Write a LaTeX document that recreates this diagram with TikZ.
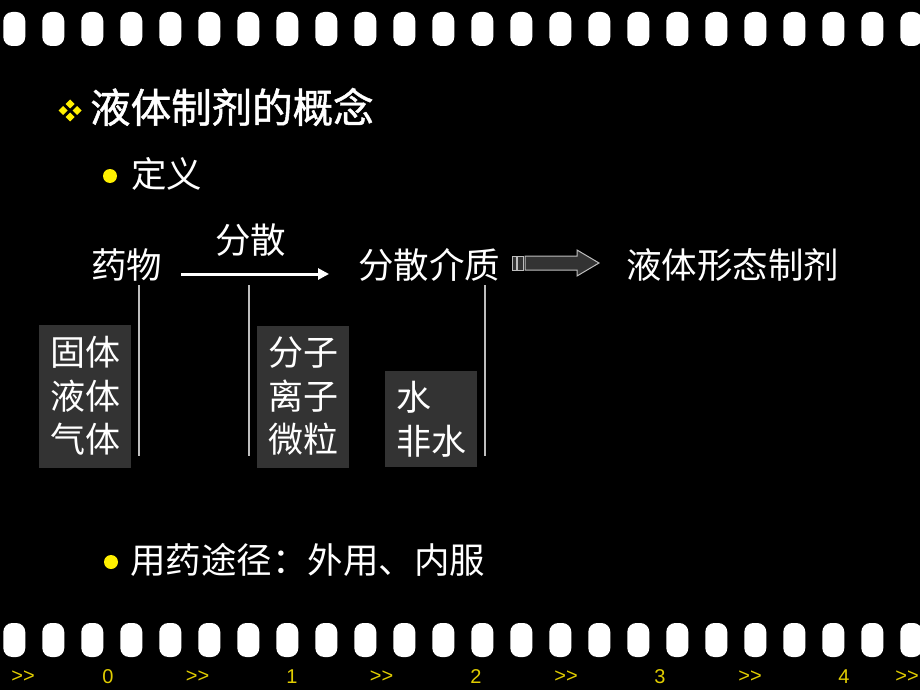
\documentclass[tikz,border=0pt]{standalone}
\usepackage{fontspec}
\setmainfont{Liberation Sans}
\newfontfamily\cjk{Noto Sans CJK SC}
\newfontfamily\cjkbold[FakeBold=1.2]{Noto Sans CJK SC}
\usetikzlibrary{arrows.meta}
\definecolor{boxgray}{RGB}{51,51,51}
\definecolor{linegray}{RGB}{190,190,190}
\definecolor{bulletyellow}{RGB}{255,240,0}
\definecolor{numyellow}{RGB}{225,205,0}
\newcommand{\rarr}{>{}>}
\begin{document}
\begin{tikzpicture}[x=1pt,y=-1pt,
  cjktext/.style={text=white, inner sep=0pt, anchor=west, font=\cjk\fontsize{35.5}{42}\selectfont},
  titletext/.style={text=white, inner sep=0pt, anchor=west, font=\cjkbold\fontsize{40.5}{48}\selectfont},
  box/.style={fill=boxgray, text=white, inner xsep=11pt, inner ysep=0pt, text width=70pt, align=left, font=\cjk\fontsize{35}{43.5}\selectfont},
  numtext/.style={text=numyellow, inner sep=0pt, font=\fontsize{20}{24}\selectfont},
  hole/.style={fill=white, rounded corners=9pt},
  vline/.style={draw=linegray, line width=1.3pt},
  dot/.style={fill=bulletyellow},
  diam/.style={fill=bulletyellow}
]
\useasboundingbox (0,0) rectangle (920,690);
\fill[black] (0,0) rectangle (920,690);

% film strip holes
\foreach \i in {0,...,23} {
  \fill[hole] ({3.3+39*\i},12) rectangle ++(22,34);
  \fill[hole] ({3.3+39*\i},623) rectangle ++(22,34);
}

% title with diamond bullet
\foreach \cx/\cy in {70/104, 63/110.5, 77/110.5, 70/117} {
  \fill[diam] (\cx-4.5,\cy) -- (\cx,\cy-4.5) -- (\cx+4.5,\cy) -- (\cx,\cy+4.5) -- cycle;
}
\node[titletext] (title) at (90,107) {液体制剂的概念};

% definition bullet
\fill[dot] (110,176) circle (7);
\node[cjktext] (def) at (131,174) {定义};

% main row
\node[cjktext] (drug) at (91,265) {药物};
\node[cjktext] (disp) at (215,240) {分散};
\node[cjktext] (medium) at (358,265) {分散介质};
\node[cjktext] (liquid) at (626,265) {液体形态制剂};

\coordinate (a1) at (181,274);
\coordinate (a2) at (329,274);
\draw[white, line width=3pt, -{Triangle[length=11pt,width=11pt]}] (a1) -- (a2);

% block arrow
\filldraw[fill=boxgray, draw=linegray, line width=1pt] (512,256) rectangle (516,270);
\filldraw[fill=boxgray, draw=linegray, line width=1pt] (517.5,256) rectangle (523,270);
\filldraw[fill=boxgray, draw=linegray, line width=1pt]
  (525,256) -- (577,256) -- (577,250) -- (599,263) -- (577,276) -- (577,270) -- (525,270) -- cycle;

% vertical lines
\coordinate (v1t) at (139,285); \coordinate (v1b) at (139,456);
\coordinate (v2t) at (249,285); \coordinate (v2b) at (249,456);
\coordinate (v3t) at (485,285); \coordinate (v3b) at (485,456);
\draw[vline] (v1t) -- (v1b);
\draw[vline] (v2t) -- (v2b);
\draw[vline] (v3t) -- (v3b);

% boxes
\node[box, minimum height=143pt] (state) at (85,396) {固体\\液体\\气体};
\node[box, minimum height=142pt] (form) at (303,396.5) {分子\\离子\\微粒};
\node[box, minimum height=96pt] (solv) at (431,419) {水\\非水};

% route bullet
\fill[dot] (111,562) circle (7);
\node[cjktext] (route) at (130,560) {用药途径：外用、内服};

% bottom numbering
\node[numtext] (r0) at (23,677) {\rarr};
\node[numtext] (n0) at (108,677) {0};
\node[numtext] (r1) at (197.5,677) {\rarr};
\node[numtext] (n1) at (292,677) {1};
\node[numtext] (r2) at (381.5,677) {\rarr};
\node[numtext] (n2) at (476,677) {2};
\node[numtext] (r3) at (566,677) {\rarr};
\node[numtext] (n3) at (660,677) {3};
\node[numtext] (r4) at (750,677) {\rarr};
\node[numtext] (n4) at (844,677) {4};
\node[numtext] (r5) at (907,677) {\rarr};
\end{tikzpicture}
\end{document}
